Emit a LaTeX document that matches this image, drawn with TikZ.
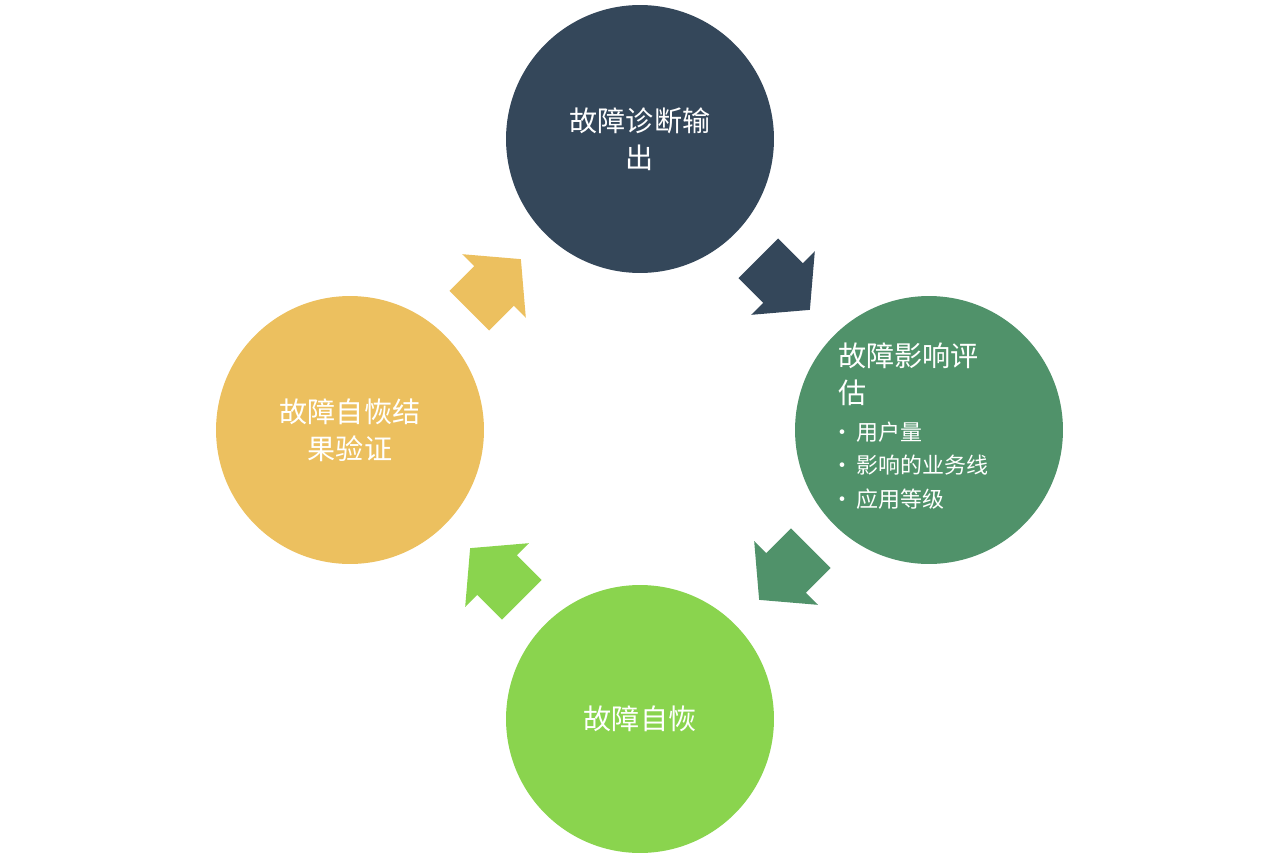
\documentclass[tikz,border=0pt]{standalone}
\usepackage{fontspec}
\setmainfont{Noto Sans CJK SC}
\usetikzlibrary{positioning}
\definecolor{cdiag}{HTML}{34475A}
\definecolor{ceval}{HTML}{50926A}
\definecolor{cheal}{HTML}{8AD44E}
\definecolor{ccheck}{HTML}{ECC05F}
\tikzset{
  stage/.style={circle, minimum size=5.36cm, inner sep=0pt, text=white, font=\fontsize{16}{21}\selectfont, align=center},
}
\newcommand{\blockarrow}[3]{% base mid, angle, colour
  \begin{scope}[shift={#1}, rotate=#2]
    \fill[#3] (-35,-28) -- (0,-28) -- (0,-45) -- (38,0) -- (0,45) -- (0,28) -- (-35,28) -- cycle;
  \end{scope}}
\begin{document}
\begin{tikzpicture}[x=0.02cm, y=-0.02cm]
\useasboundingbox (0,0) rectangle (1280,858);
\node[stage, fill=cdiag] (diag) at (640,139) {故障诊断输\\出};
\node[stage, fill=ceval] (eval) at (929,430) {};
\node[stage, fill=cheal] (heal) at (640,719) {故障自恢};
\node[stage, fill=ccheck] (check) at (350,430) {故障自恢结\\果验证};
\node[anchor=north west, text=white, align=left, font=\fontsize{16}{21}\selectfont] (evaltitle) at (832,337) {故障影响评\\估};
\node[text=white, align=left, font=\fontsize{12.5}{19}\selectfont, below=2pt of evaltitle.south west, anchor=north west, xshift=-4pt] (evallist) {•\,用户量\\•\,影响的业务线\\•\,应用等级};
\blockarrow{(783,283)}{-45}{cdiag}
\blockarrow{(786,573)}{-135}{ceval}
\blockarrow{(497,575)}{135}{cheal}
\blockarrow{(494,286)}{45}{ccheck}
\end{tikzpicture}
\end{document}
